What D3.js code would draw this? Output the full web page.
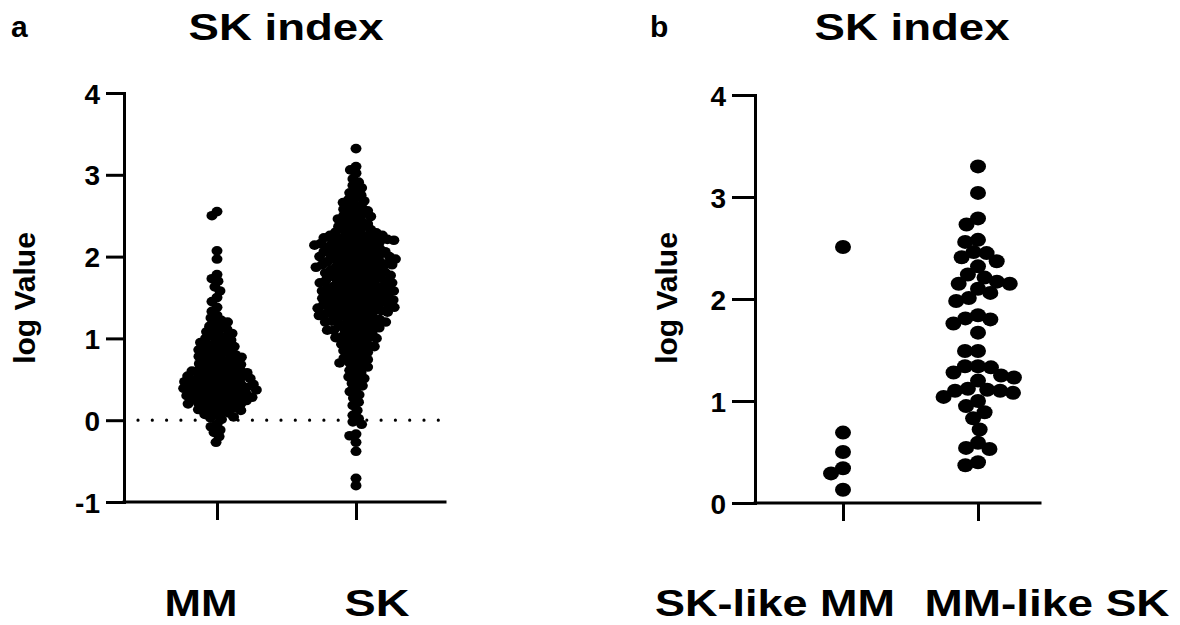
<!DOCTYPE html>
<html>
<head>
<meta charset="utf-8">
<script src="https://cdn.jsdelivr.net/npm/d3@7"></script>
<style>
  body { margin: 0; background: #fff; }
  svg text { font-family: "Liberation Sans", Arial, sans-serif; font-weight: bold; fill: #000; }
</style>
</head>
<body>
<svg id="chart" width="1180" height="625"></svg>
<script>
// Categories and tick labels.
var groupsA = ["MM", "SK"];
var groupsB = ["SK-like MM", "MM-like SK"];
var ticksA = [-1, 0, 1, 2, 3, 4];
var ticksB = [0, 1, 2, 3, 4];

// Panel a values (log Value).
var mmValues = [
  2.55, 2.50, 2.07, 1.97,
  1.78, 1.73, 1.70, 1.63, 1.58, 1.50, 1.45, 1.38, 1.33,
  1.28, 1.25, 1.22, 1.20,
  1.18, 1.15, 1.13, 1.11, 1.10,
  1.08, 1.06, 1.04, 1.03, 1.01, 1.00,
  0.98, 0.97, 0.95, 0.93, 0.92, 0.91, 0.90,
  0.89, 0.87, 0.86, 0.84, 0.83, 0.82, 0.81, 0.80,
  0.79, 0.78, 0.77, 0.75, 0.74, 0.73, 0.72, 0.71, 0.70,
  0.69, 0.68, 0.67, 0.66, 0.65, 0.64, 0.63, 0.62, 0.61, 0.60, 0.60,
  0.59, 0.58, 0.58, 0.57, 0.56, 0.55, 0.54, 0.54, 0.53, 0.52, 0.51, 0.51, 0.50,
  0.49, 0.49, 0.48, 0.47, 0.47, 0.46, 0.45, 0.44, 0.44, 0.43, 0.42, 0.42, 0.41, 0.40, 0.40,
  0.39, 0.39, 0.38, 0.37, 0.37, 0.36, 0.35, 0.34, 0.34, 0.33, 0.32, 0.32, 0.31, 0.30, 0.30,
  0.29, 0.28, 0.28, 0.27, 0.26, 0.26, 0.25, 0.24, 0.24, 0.23, 0.22, 0.21, 0.20, 0.20,
  0.19, 0.18, 0.17, 0.16, 0.15, 0.14, 0.13, 0.12, 0.11, 0.10,
  0.09, 0.07, 0.06, 0.04, 0.03, 0.01,
  -0.05, -0.08, -0.12, -0.15, -0.20, -0.27
];

var skValues = [
  3.32, 3.10, 3.06, 3.02, 2.95, 2.91, 2.87,
  2.84, 2.80, 2.78, 2.75, 2.72, 2.70,
  2.68, 2.66, 2.63, 2.61, 2.60, 2.58, 2.56, 2.55, 2.53, 2.51,
  2.50, 2.49, 2.47, 2.46, 2.44, 2.43, 2.42, 2.40, 2.39, 2.37, 2.36, 2.35, 2.33, 2.32, 2.31,
  2.30, 2.29, 2.28, 2.27, 2.26, 2.26, 2.25, 2.24, 2.23, 2.23, 2.22, 2.21, 2.21, 2.20,
  2.20, 2.19, 2.18, 2.18, 2.17, 2.16, 2.16, 2.15, 2.14, 2.14, 2.13, 2.12, 2.12, 2.11, 2.10,
  2.09, 2.08, 2.08, 2.07, 2.06, 2.06, 2.05, 2.04, 2.03, 2.03, 2.02, 2.01, 2.01, 2.00, 2.00,
  1.99, 1.98, 1.97, 1.97, 1.96, 1.95, 1.94, 1.94, 1.93, 1.92, 1.91, 1.91, 1.90, 1.90,
  1.89, 1.88, 1.88, 1.87, 1.86, 1.85, 1.85, 1.84, 1.83, 1.82, 1.82, 1.81, 1.80, 1.80,
  1.79, 1.78, 1.77, 1.77, 1.76, 1.75, 1.74, 1.74, 1.73, 1.72, 1.71, 1.71, 1.70, 1.70,
  1.69, 1.68, 1.68, 1.67, 1.66, 1.65, 1.65, 1.64, 1.63, 1.62, 1.62, 1.61, 1.60, 1.60,
  1.59, 1.58, 1.58, 1.57, 1.56, 1.56, 1.55, 1.54, 1.53, 1.53, 1.52, 1.51, 1.51, 1.50, 1.50,
  1.49, 1.48, 1.48, 1.47, 1.46, 1.46, 1.45, 1.44, 1.43, 1.43, 1.42, 1.41, 1.41, 1.40, 1.40,
  1.39, 1.38, 1.38, 1.37, 1.36, 1.36, 1.35, 1.34, 1.34, 1.33, 1.32, 1.32, 1.31, 1.30, 1.30,
  1.29, 1.28, 1.27, 1.27, 1.26, 1.25, 1.24, 1.23, 1.23, 1.22, 1.21, 1.20, 1.20,
  1.19, 1.18, 1.17, 1.16, 1.15, 1.14, 1.13, 1.12, 1.11, 1.10, 1.10,
  1.09, 1.07, 1.06, 1.05, 1.03, 1.02, 1.01, 1.00, 1.00,
  0.98, 0.96, 0.95, 0.93, 0.92, 0.90, 0.90,
  0.88, 0.86, 0.85, 0.83, 0.81, 0.80,
  0.78, 0.76, 0.74, 0.72, 0.70, 0.70,
  0.68, 0.65, 0.63, 0.61,
  0.58, 0.55, 0.53, 0.51,
  0.48, 0.45, 0.42,
  0.38, 0.35, 0.31,
  0.27, 0.22, 0.18, 0.12, 0.06, 0.02,
  -0.02, -0.05, -0.17, -0.19, -0.27, -0.38, -0.71, -0.80
];

// Panel b values.
var skLikeMMValues = [2.51, 0.69, 0.50, 0.34, 0.29, 0.13];
var mmLikeSKValues = [
  3.30, 3.04, 2.79, 2.73, 2.58, 2.56, 2.46, 2.45, 2.41, 2.37,
  2.32, 2.24, 2.21, 2.17, 2.15, 2.15, 2.10, 2.06, 2.01, 1.98,
  1.84, 1.81, 1.80, 1.76, 1.67, 1.49, 1.49, 1.34, 1.34, 1.33,
  1.28, 1.25, 1.23, 1.20, 1.12, 1.11, 1.10, 1.10, 1.08, 1.04,
  1.00, 0.95, 0.89, 0.83, 0.72, 0.59, 0.54, 0.53, 0.40, 0.37
];

var svg = d3.select("#chart");

// Place points of one column like a beeswarm: each point goes to the
// free x offset closest to the column centre.
function swarm(values, y, d) {
    var pts = values.map(function (v) { return { v: v, y: y(v) }; })
        .sort(function (a, b) { return a.y - b.y; });
    var placed = [];
    pts.forEach(function (p) {
        var iv = placed.filter(function (q) { return Math.abs(q.y - p.y) < d; })
            .map(function (q) {
                var w = Math.sqrt(d * d - (q.y - p.y) * (q.y - p.y));
                return [q.x - w, q.x + w];
            });
        var cands = [0];
        iv.forEach(function (i) { cands.push(i[0], i[1]); });
        cands.sort(function (a, b) { return Math.abs(a) - Math.abs(b); });
        p.x = cands.find(function (c) {
            return iv.every(function (i) { return c <= i[0] + 1e-6 || c >= i[1] - 1e-6; });
        });
        placed.push(p);
    });
    return pts;
}

function panel(cfg) {
    var g = svg.append("g");

    var y = d3.scaleLinear().domain(cfg.yDomain).range(cfg.yRange);
    var x = d3.scalePoint().domain(cfg.groups).range(cfg.xPoints);

    // Zero reference line (panel a only).
    if (cfg.zeroLine) {
        g.append("line")
            .attr("x1", cfg.xLeft + 14).attr("x2", cfg.xRight)
            .attr("y1", y(0)).attr("y2", y(0))
            .attr("stroke", "#000")
            .attr("stroke-width", 3.2)
            .attr("stroke-linecap", "round")
            .attr("stroke-dasharray", "0,14.3");
    }

    // Dots.
    cfg.series.forEach(function (vals, i) {
        var pts = swarm(vals, y, cfg.collide);
        g.append("g").selectAll("ellipse")
            .data(pts)
            .enter()
            .append("ellipse")
            .attr("cx", function (d) { return x(cfg.groups[i]) + d.x; })
            .attr("cy", function (d) { return d.y; })
            .attr("rx", cfg.rx)
            .attr("ry", cfg.ry)
            .attr("fill", "#000");
    });

    // Y axis.
    var ya = g.append("g")
        .attr("transform", "translate(" + cfg.xLeft + ",0)")
        .call(d3.axisLeft(y).tickValues(cfg.ticks).tickFormat(String)
            .tickSize(cfg.tickY).tickSizeOuter(0).tickPadding(6));
    ya.select(".domain").attr("stroke-width", 3).attr("stroke-linecap", "square");
    ya.selectAll(".tick line").attr("stroke-width", 3);
    ya.selectAll(".tick text")
        .style("font-size", "28px")
        .attr("dy", "0.36em");

    // X axis: base line plus category ticks.
    g.append("line")
        .attr("x1", cfg.xLeft).attr("x2", cfg.xRight)
        .attr("y1", cfg.yRange[0]).attr("y2", cfg.yRange[0])
        .attr("stroke", "#000").attr("stroke-width", 3)
        .attr("stroke-linecap", "square");
    var xa = g.append("g")
        .attr("transform", "translate(0," + cfg.yRange[0] + ")")
        .call(d3.axisBottom(x).tickSize(18).tickSizeOuter(0).tickFormat(""));
    xa.select(".domain").remove();
    xa.selectAll(".tick line").attr("stroke-width", 3);

    // Category labels.
    g.selectAll(".cat")
        .data(cfg.groups)
        .enter()
        .append("text")
        .attr("class", "cat")
        .attr("x", function (d, i) { return cfg.labelX[i]; })
        .attr("y", 616)
        .attr("text-anchor", "middle")
        .attr("textLength", function (d, i) { return cfg.labelW[i]; })
        .attr("lengthAdjust", "spacingAndGlyphs")
        .style("font-size", "37px")
        .text(function (d) { return d; });

    // Y title.
    g.append("text")
        .attr("transform", "translate(" + cfg.yTitleX + ",298) rotate(-90)")
        .attr("text-anchor", "middle")
        .style("font-size", "30px")
        .text("log Value");

    // Panel letter and title.
    g.append("text")
        .attr("x", cfg.letterX).attr("y", 37)
        .style("font-size", "30px")
        .text(cfg.letter);
    g.append("text")
        .attr("x", cfg.titleX).attr("y", 40)
        .attr("text-anchor", "middle")
        .attr("textLength", 195)
        .attr("lengthAdjust", "spacingAndGlyphs")
        .style("font-size", "37px")
        .text("SK index");
}

panel({
    letter: "a", letterX: 11, titleX: 286,
    groups: groupsA, series: [mmValues, skValues],
    ticks: ticksA, yDomain: [-1, 4], yRange: [502, 93],
    xLeft: 124, xRight: 445, xPoints: [217, 356],
    tickY: 18, collide: 6.5, rx: 5.5, ry: 4.8,
    zeroLine: true,
    labelX: [201, 377], labelW: [73, 65],
    yTitleX: 35
});

panel({
    letter: "b", letterX: 650, titleX: 912,
    groups: groupsB, series: [skLikeMMValues, mmLikeSKValues],
    ticks: ticksB, yDomain: [0, 4], yRange: [503, 95],
    xLeft: 755, xRight: 1040, xPoints: [843, 978],
    tickY: 23, collide: 13, rx: 8, ry: 7,
    zeroLine: false,
    labelX: [775, 1047], labelW: [240, 245],
    yTitleX: 677
});
</script>
</body>
</html>
